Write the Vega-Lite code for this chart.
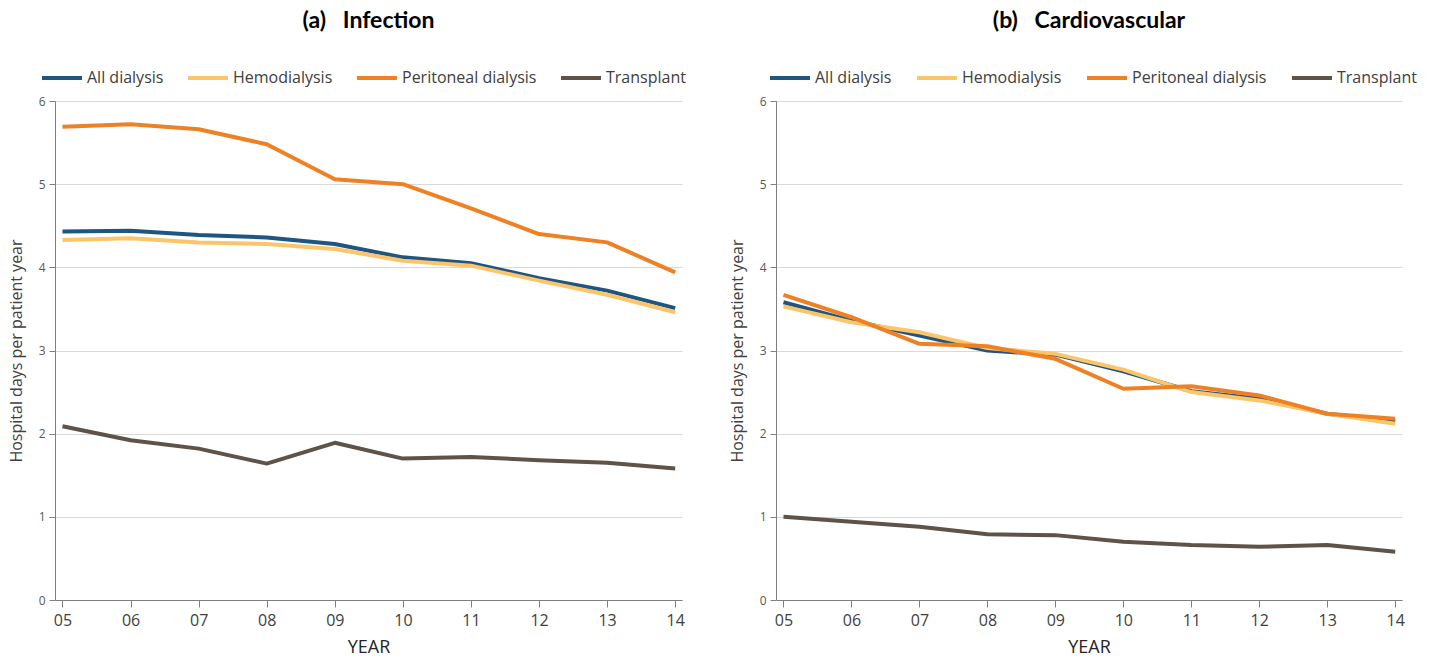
{
  "$schema": "https://vega.github.io/schema/vega-lite/v6.json",
  "background": "white",
  "padding": {"left": 8, "top": 10, "right": 4, "bottom": 0},
  "config": {
    "font": "Open Sans",
    "view": {"stroke": null},
    "title": {"font": "Lato", "fontSize": 23, "fontWeight": "bold", "color": "#000000", "anchor": "middle", "offset": 23},
    "axis": {
      "domainColor": "#7f7f7f",
      "tickColor": "#7f7f7f",
      "gridColor": "#d9d9d9",
      "labelFont": "Open Sans",
      "titleFont": "Open Sans",
      "titleFontWeight": "normal"
    },
    "legend": {"labelFont": "Open Sans", "labelFontSize": 16, "labelColor": "#404040"}
  },
  "datasets": {
    "rates": [
      {"panel": "a", "series": "All dialysis", "year": 5, "value": 4.43},
      {"panel": "a", "series": "All dialysis", "year": 6, "value": 4.44},
      {"panel": "a", "series": "All dialysis", "year": 7, "value": 4.39},
      {"panel": "a", "series": "All dialysis", "year": 8, "value": 4.36},
      {"panel": "a", "series": "All dialysis", "year": 9, "value": 4.28},
      {"panel": "a", "series": "All dialysis", "year": 10, "value": 4.12},
      {"panel": "a", "series": "All dialysis", "year": 11, "value": 4.05},
      {"panel": "a", "series": "All dialysis", "year": 12, "value": 3.87},
      {"panel": "a", "series": "All dialysis", "year": 13, "value": 3.72},
      {"panel": "a", "series": "All dialysis", "year": 14, "value": 3.51},
      {"panel": "a", "series": "Hemodialysis", "year": 5, "value": 4.33},
      {"panel": "a", "series": "Hemodialysis", "year": 6, "value": 4.35},
      {"panel": "a", "series": "Hemodialysis", "year": 7, "value": 4.30},
      {"panel": "a", "series": "Hemodialysis", "year": 8, "value": 4.28},
      {"panel": "a", "series": "Hemodialysis", "year": 9, "value": 4.22},
      {"panel": "a", "series": "Hemodialysis", "year": 10, "value": 4.08},
      {"panel": "a", "series": "Hemodialysis", "year": 11, "value": 4.02},
      {"panel": "a", "series": "Hemodialysis", "year": 12, "value": 3.84},
      {"panel": "a", "series": "Hemodialysis", "year": 13, "value": 3.67},
      {"panel": "a", "series": "Hemodialysis", "year": 14, "value": 3.46},
      {"panel": "a", "series": "Peritoneal dialysis", "year": 5, "value": 5.69},
      {"panel": "a", "series": "Peritoneal dialysis", "year": 6, "value": 5.72},
      {"panel": "a", "series": "Peritoneal dialysis", "year": 7, "value": 5.66},
      {"panel": "a", "series": "Peritoneal dialysis", "year": 8, "value": 5.48},
      {"panel": "a", "series": "Peritoneal dialysis", "year": 9, "value": 5.06},
      {"panel": "a", "series": "Peritoneal dialysis", "year": 10, "value": 5.00},
      {"panel": "a", "series": "Peritoneal dialysis", "year": 11, "value": 4.71},
      {"panel": "a", "series": "Peritoneal dialysis", "year": 12, "value": 4.40},
      {"panel": "a", "series": "Peritoneal dialysis", "year": 13, "value": 4.30},
      {"panel": "a", "series": "Peritoneal dialysis", "year": 14, "value": 3.94},
      {"panel": "a", "series": "Transplant", "year": 5, "value": 2.09},
      {"panel": "a", "series": "Transplant", "year": 6, "value": 1.92},
      {"panel": "a", "series": "Transplant", "year": 7, "value": 1.82},
      {"panel": "a", "series": "Transplant", "year": 8, "value": 1.64},
      {"panel": "a", "series": "Transplant", "year": 9, "value": 1.89},
      {"panel": "a", "series": "Transplant", "year": 10, "value": 1.70},
      {"panel": "a", "series": "Transplant", "year": 11, "value": 1.72},
      {"panel": "a", "series": "Transplant", "year": 12, "value": 1.68},
      {"panel": "a", "series": "Transplant", "year": 13, "value": 1.65},
      {"panel": "a", "series": "Transplant", "year": 14, "value": 1.58},
      {"panel": "b", "series": "All dialysis", "year": 5, "value": 3.58},
      {"panel": "b", "series": "All dialysis", "year": 6, "value": 3.36},
      {"panel": "b", "series": "All dialysis", "year": 7, "value": 3.18},
      {"panel": "b", "series": "All dialysis", "year": 8, "value": 3.00},
      {"panel": "b", "series": "All dialysis", "year": 9, "value": 2.95},
      {"panel": "b", "series": "All dialysis", "year": 10, "value": 2.75},
      {"panel": "b", "series": "All dialysis", "year": 11, "value": 2.51},
      {"panel": "b", "series": "All dialysis", "year": 12, "value": 2.42},
      {"panel": "b", "series": "All dialysis", "year": 13, "value": 2.24},
      {"panel": "b", "series": "All dialysis", "year": 14, "value": 2.15},
      {"panel": "b", "series": "Hemodialysis", "year": 5, "value": 3.53},
      {"panel": "b", "series": "Hemodialysis", "year": 6, "value": 3.34},
      {"panel": "b", "series": "Hemodialysis", "year": 7, "value": 3.22},
      {"panel": "b", "series": "Hemodialysis", "year": 8, "value": 3.03},
      {"panel": "b", "series": "Hemodialysis", "year": 9, "value": 2.96},
      {"panel": "b", "series": "Hemodialysis", "year": 10, "value": 2.77},
      {"panel": "b", "series": "Hemodialysis", "year": 11, "value": 2.50},
      {"panel": "b", "series": "Hemodialysis", "year": 12, "value": 2.40},
      {"panel": "b", "series": "Hemodialysis", "year": 13, "value": 2.24},
      {"panel": "b", "series": "Hemodialysis", "year": 14, "value": 2.12},
      {"panel": "b", "series": "Peritoneal dialysis", "year": 5, "value": 3.67},
      {"panel": "b", "series": "Peritoneal dialysis", "year": 6, "value": 3.40},
      {"panel": "b", "series": "Peritoneal dialysis", "year": 7, "value": 3.08},
      {"panel": "b", "series": "Peritoneal dialysis", "year": 8, "value": 3.05},
      {"panel": "b", "series": "Peritoneal dialysis", "year": 9, "value": 2.90},
      {"panel": "b", "series": "Peritoneal dialysis", "year": 10, "value": 2.54},
      {"panel": "b", "series": "Peritoneal dialysis", "year": 11, "value": 2.57},
      {"panel": "b", "series": "Peritoneal dialysis", "year": 12, "value": 2.46},
      {"panel": "b", "series": "Peritoneal dialysis", "year": 13, "value": 2.24},
      {"panel": "b", "series": "Peritoneal dialysis", "year": 14, "value": 2.18},
      {"panel": "b", "series": "Transplant", "year": 5, "value": 1.00},
      {"panel": "b", "series": "Transplant", "year": 6, "value": 0.94},
      {"panel": "b", "series": "Transplant", "year": 7, "value": 0.88},
      {"panel": "b", "series": "Transplant", "year": 8, "value": 0.79},
      {"panel": "b", "series": "Transplant", "year": 9, "value": 0.78},
      {"panel": "b", "series": "Transplant", "year": 10, "value": 0.70},
      {"panel": "b", "series": "Transplant", "year": 11, "value": 0.66},
      {"panel": "b", "series": "Transplant", "year": 12, "value": 0.64},
      {"panel": "b", "series": "Transplant", "year": 13, "value": 0.66},
      {"panel": "b", "series": "Transplant", "year": 14, "value": 0.58}
    ]
  },
  "resolve": {"scale": {"color": "independent"}, "legend": {"color": "independent"}},
  "spacing": 43,
  "hconcat": [
    {
      "title": {"text": "(a)\u00a0\u00a0 Infection"},
      "width": 627,
      "height": 499,
      "data": {"name": "rates"},
      "transform": [{"filter": "datum.panel === 'a'"}],
      "mark": {"type": "line", "strokeWidth": 4, "strokeJoin": "round"},
      "encoding": {
        "x": {
          "field": "year", "type": "quantitative",
          "scale": {"domain": [4.89, 14.1], "nice": false, "zero": false},
          "axis": {"values": [5, 6, 7, 8, 9, 10, 11, 12, 13, 14], "labelExpr": "datum.value < 10 ? '0' + datum.value : '' + datum.value", "grid": false, "labelFontSize": 16, "labelColor": "#404040", "tickSize": 7, "labelPadding": 5, "title": "YEAR", "titleFontSize": 18, "titleColor": "#262626", "titlePadding": 10}
        },
        "y": {
          "field": "value", "type": "quantitative",
          "scale": {"domain": [0, 6], "nice": false},
          "axis": {"values": [0, 1, 2, 3, 4, 5, 6], "grid": true, "labelFontSize": 12, "labelColor": "#595959", "tickSize": 6, "labelPadding": 4, "title": "Hospital days per patient year", "titleFontSize": 16, "titleColor": "#404040", "titlePadding": 14}
        },
        "color": {
          "field": "series", "type": "nominal",
          "scale": {"domain": ["All dialysis", "Hemodialysis", "Peritoneal dialysis", "Transplant"], "range": ["#1f5582", "#fdc56a", "#ee8124", "#5f5249"]},
          "legend": {"title": null, "orient": "none", "legendX": -15, "legendY": -45, "direction": "horizontal", "symbolType": "stroke", "symbolStrokeWidth": 4, "symbolSize": 1600, "columnPadding": 16, "labelOffset": 3}
        }
      }
    },
    {
      "title": {"text": "(b)\u00a0\u00a0 Cardiovascular"},
      "width": 626,
      "height": 499,
      "data": {"name": "rates"},
      "transform": [{"filter": "datum.panel === 'b'"}],
      "mark": {"type": "line", "strokeWidth": 4, "strokeJoin": "round"},
      "encoding": {
        "x": {
          "field": "year", "type": "quantitative",
          "scale": {"domain": [4.89, 14.1], "nice": false, "zero": false},
          "axis": {"values": [5, 6, 7, 8, 9, 10, 11, 12, 13, 14], "labelExpr": "datum.value < 10 ? '0' + datum.value : '' + datum.value", "grid": false, "labelFontSize": 16, "labelColor": "#404040", "tickSize": 7, "labelPadding": 5, "title": "YEAR", "titleFontSize": 18, "titleColor": "#262626", "titlePadding": 10}
        },
        "y": {
          "field": "value", "type": "quantitative",
          "scale": {"domain": [0, 6], "nice": false},
          "axis": {"values": [0, 1, 2, 3, 4, 5, 6], "grid": true, "labelFontSize": 12, "labelColor": "#595959", "tickSize": 6, "labelPadding": 4, "title": "Hospital days per patient year", "titleFontSize": 16, "titleColor": "#404040", "titlePadding": 14}
        },
        "color": {
          "field": "series", "type": "nominal",
          "scale": {"domain": ["All dialysis", "Hemodialysis", "Peritoneal dialysis", "Transplant"], "range": ["#1f5582", "#fdc56a", "#ee8124", "#5f5249"]},
          "legend": {"title": null, "orient": "none", "legendX": -8, "legendY": -45, "direction": "horizontal", "symbolType": "stroke", "symbolStrokeWidth": 4, "symbolSize": 1600, "columnPadding": 17, "labelOffset": 3}
        }
      }
    }
  ]
}
